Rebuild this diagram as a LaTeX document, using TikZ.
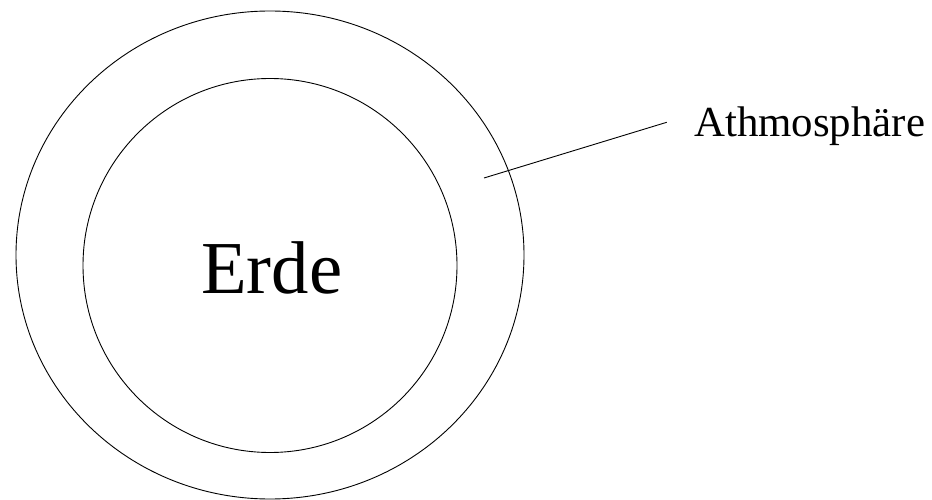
\documentclass[tikz,border=0pt]{standalone}
\usepackage{fontspec}
\setmainfont{Liberation Serif}
\begin{document}
\begin{tikzpicture}[x=1bp,y=-1bp,
  ring/.style={draw=black,line width=0.9bp},
  label/.style={inner sep=0pt,anchor=base west}]
\useasboundingbox (0,0) rectangle (932,500);
\draw[ring] (270,255) ellipse [x radius=254, y radius=244];
\draw[ring] (270,265.5) circle [radius=187];
\node[label,font=\fontsize{75}{80}\selectfont] (erde) at (201,294) {Erde};
\node[label,font=\fontsize{43}{50}\selectfont] (atm) at (694,137) {Athmosphäre};
\coordinate (p) at (484,178);
\coordinate (q) at (666.7,122.3);
\draw[ring] (p) -- (q);
\end{tikzpicture}
\end{document}
